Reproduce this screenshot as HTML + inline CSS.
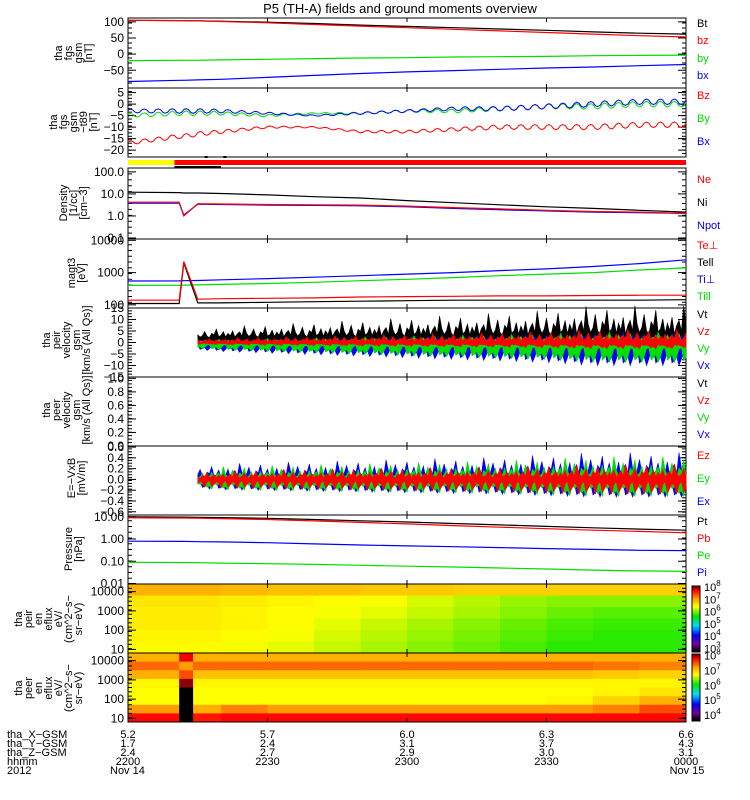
<!DOCTYPE html>
<html><head><meta charset="utf-8"><style>
body{margin:0;background:#fff;}
svg{display:block;font-family:"Liberation Sans",sans-serif;}
</style></head><body>
<svg id="c" width="750" height="800" viewBox="0 0 750 800"></svg>
<script>
// ---- data (time in minutes since 22:00) ----
const tKnots=[0,11,12,15,20,30,40,50,60,70,80,90,100,110,120];
const Bt=[105,104,104,103,102,99,95,90,86,82,78,74,69,65,62];
const Bz=[105,104,104,103,101,97,92,87,82,77,72,67,62,57,53];
const By=[-20,-19,-19,-19,-18,-16,-14,-12,-11,-9,-8,-7,-5,-4,-3];
const Bx=[-85,-81,-81,-80,-78,-72,-66,-60,-55,-51,-47,-43,-40,-36,-32];
const dBz=[-17,-14,-14,-13,-12,-10,-10,-12,-12,-11,-10,-10,-10,-9,-9];
const dBy=[-5,-4,-4,-4,-4,-5,-4,-4,-3,-3,-2,-1,-1,0,0];
const dBx=[-3,-3,-3,-3,-3,-4,-5,-4,-3,-2,-2,-1,0,1,1];
const dOsc=[0.8,1,1,1,0.8,0.5,0.3,0.5,0.6,0.8,1,1.1,1.2,1.2,1.2];
const Ne=[4.2,4.2,1.0,3.6,3.5,3.3,3.2,3.1,2.8,2.4,2.1,1.8,1.6,1.5,1.3];
const Ni=[12,11.5,11,11,10.5,9,7.5,6.5,5,4,3.2,2.6,2.2,1.8,1.5];
const Npot=[3.8,3.8,1.1,3.4,3.3,3.1,3.0,2.9,2.6,2.2,1.9,1.7,1.5,1.4,1.3];
const TePerp=[140,140,2200,150,155,160,165,175,180,185,190,190,195,200,200];
const TePar=[110,110,2000,115,115,120,125,130,135,140,140,140,140,140,145];
const TiPerp=[550,555,560,570,600,650,720,800,900,1000,1150,1300,1550,1900,2500];
const TiPar=[400,405,410,415,430,460,500,560,620,700,800,900,1000,1200,1400];
const vBand=[0,0,0,2,2.5,3,3.5,4,4.5,5,5.5,6,7,7,7];
const eBand=[0,0,0,0.12,0.14,0.15,0.16,0.17,0.18,0.19,0.2,0.22,0.24,0.24,0.24];
const Pt=[10,9.7,9.7,9.5,9.2,8.5,7.5,6.6,5.8,5,4.3,3.7,3.2,2.8,2.5];
const Pb=[9,8.8,8.8,8.6,8.3,7.5,6.5,5.6,4.8,4,3.4,2.9,2.5,2.2,1.9];
const Pe=[0.8,0.78,0.78,0.76,0.74,0.68,0.6,0.54,0.49,0.45,0.41,0.37,0.34,0.31,0.3];
const Pi=[0.09,0.088,0.088,0.086,0.083,0.078,0.072,0.066,0.06,0.055,0.05,0.045,0.04,0.037,0.035];
// spectrogram time-bin edges and log10 flux (rows: energy high->low)
const specEdges=[0,11,14,20,30,40,50,60,70,80,90,100,110,120];
const ionSpec=[
[7.0,7.0,7.0,6.95,6.9,6.9,6.85,6.85,6.8,6.8,6.8,6.8,6.8],
[6.65,6.65,6.65,6.6,6.55,6.5,6.45,6.35,6.25,6.15,6.1,6.1,6.1],
[6.6,6.6,6.6,6.55,6.5,6.45,6.4,6.3,6.2,6.1,6.0,5.95,5.95],
[6.6,6.6,6.6,6.55,6.5,6.4,6.3,6.2,6.1,6.0,5.9,5.85,5.85],
[6.55,6.55,6.55,6.5,6.45,6.35,6.25,6.15,6.05,5.95,5.85,5.8,5.8],
[6.5,6.5,6.5,6.45,6.4,6.3,6.2,6.1,6.0,5.9,5.8,5.8,5.8]];
const eleSpec=[
[7.2,7.9,7.2,7.2,7.2,7.2,7.2,7.2,7.2,7.2,7.2,7.2,7.2],
[7.5,7.3,7.5,7.5,7.5,7.5,7.5,7.5,7.5,7.5,7.5,7.45,7.4],
[7.2,7.6,7.1,7.1,7.1,7.1,7.1,7.1,7.1,7.1,7.1,7.05,7.0],
[6.8,8.1,6.8,6.8,6.8,6.8,6.8,6.8,6.8,6.8,6.8,6.8,6.8],
[6.75,0,6.75,6.75,6.75,6.75,6.75,6.75,6.75,6.75,6.75,6.8,6.9],
[6.75,0,6.75,6.75,6.75,6.75,6.75,6.75,6.75,6.75,6.8,7.0,7.2],
[7.3,0,7.2,7.4,7.3,7.3,7.3,7.3,7.3,7.3,7.3,7.4,7.6],
[7.85,0,7.8,7.85,7.85,7.85,7.85,7.85,7.85,7.85,7.85,7.85,7.85]];
const xTicks=['2200','2230','2300','2330','0000'];
const posX=['5.2','5.7','6.0','6.3','6.6'];
const posY=['1.7','2.4','3.1','3.7','4.3'];
const posZ=['2.4','2.7','2.9','3.0','3.1'];
// ---- helpers ----
const S=document.getElementById('c'),NS='http://www.w3.org/2000/svg';
const X0=128,X1=686;
const pat=[1.0,0.45,0.8,1.7,0.6,0.3,1.2,0.9,2.0,0.5,0.7,1.4,0.4,1.1,0.6,1.5,0.35,0.95,1.3,0.55,2.3];
function X(t){return X0+t/120*(X1-X0);}
function el(tag,a,p){const e=document.createElementNS(NS,tag);for(const k in a)e.setAttribute(k,a[k]);(p||S).appendChild(e);return e;}
function txt(x,y,s,o){o=o||{};const e=el('text',{x:x,y:y,'font-size':o.fs||11,fill:o.fill||'#000','text-anchor':o.a||'start'});if(o.rot)e.setAttribute('transform','rotate(-90 '+x+' '+y+')');e.textContent=s;return e;}
function lin(v,a,b,y0,y1){return y1-(v-a)/(b-a)*(y1-y0);}
function lg(v,a,b,y0,y1){return lin(Math.log10(v),Math.log10(a),Math.log10(b),y0,y1);}
function interp(arr,t){let i=0;while(i<tKnots.length-2&&t>tKnots[i+1])i++;const u=(t-tKnots[i])/(tKnots[i+1]-tKnots[i]);return arr[i]*(1-u)+arr[i+1]*u;}
function series(arr,f,col,name){let d='';for(let i=0;i<arr.length;i++){d+=(d?'L':'M')+X(tKnots[i]).toFixed(1)+','+f(arr[i]).toFixed(1);}
 const p=el('path',{d:d,fill:'none',stroke:col,'stroke-width':1.2});}
function osc(arr,amp,f,col,name){let d='';for(let k=0;k<=240;k++){const t=k/2;const v=interp(arr,t),a=interp(amp,t);const ph=k%6;const w=(ph<3?1:-1)*a*(ph%3===1?1:0.6);d+=(d?'L':'M')+X(t).toFixed(1)+','+f(v+w).toFixed(1);}
 const p=el('path',{d:d,fill:'none',stroke:col,'stroke-width':1});}
function band(center,w,f,col,name,su,sd,off){let up='',dn=[];for(let k=0;k<=210;k++){const t=15+k*0.5;const a=interp(w,t);const m1=pat[(k+off)%pat.length],m2=pat[(k*3+off+7)%pat.length];up+=(up?'L':'M')+X(t).toFixed(1)+','+f(center+a*su*m1).toFixed(1);dn.unshift(X(t).toFixed(1)+','+f(center-a*sd*m2).toFixed(1));}
 const p=el('path',{d:up+'L'+dn.join('L')+'Z',fill:col,stroke:col,'stroke-width':0.6});}
function frame(y0,y1,name){const r=el('rect',{x:X0,y:y0,width:X1-X0,height:y1-y0,fill:'none',stroke:'#000','stroke-width':1});
 for(let i=1;i<4;i++){el('line',{x1:X(i*30),x2:X(i*30),y1:y0,y2:y0+4,stroke:'#000'});el('line',{x1:X(i*30),x2:X(i*30),y1:y1,y2:y1-4,stroke:'#000'});}}
function yt(y,s){el('line',{x1:X0,x2:X0+8,y1:y,y2:y,stroke:'#000'});el('line',{x1:X1,x2:X1-8,y1:y,y2:y,stroke:'#000'});txt(X0-4,y+4,s,{a:'end',fs:12});}
function minor(y0,y1,n){for(let i=0;i<=n;i++){const y=y0+(y1-y0)*i/n;el('line',{x1:X0,x2:X0+4,y1:y,y2:y,stroke:'#000'});el('line',{x1:X1,x2:X1-4,y1:y,y2:y,stroke:'#000'});}}
function ylab(lines,xc,yc){lines.forEach((s,i)=>{const t=txt(xc+i*10,yc,s,{a:'middle',fs:11,rot:1});});}
function legend(items,ys){items.forEach((it,i)=>{const t=txt(697,ys[i],it[0],{fill:it[1],fs:11});});}
// title
const ti=txt(400,13,'P5 (TH-A) fields and ground moments overview',{a:'middle',fs:13});

// panel 1
{const y0=18,y1=88,f=v=>lin(v,-105,112,y0,y1);frame(y0,y1,'fgm-panel');minor(y0,y1,14);[100,50,0,-50].forEach(v=>yt(f(v),v<0?'\u221250':String(v)));
series(Bt,f,'#000','bt-line');series(Bz,f,'#f00','bz-line');series(By,f,'#0d0','by-line');series(Bx,f,'#00f','bx-line');
ylab(['tha','fgs','gsm','[nT]'],62,53);legend([['Bt','#000'],['bz','#f00'],['by','#0d0'],['bx','#00f']],[27,44,62,79]);}
// panel 2
{const y0=88,y1=157,f=v=>lin(v,-23,7,y0,y1);frame(y0,y1,'fgm-detrended-panel');minor(y0,y1,20);[5,0,-5,-10,-15,-20].forEach(v=>yt(f(v),v<0?'\u2212'+(-v):String(v)));
osc(dBz,dOsc,f,'#f00','dbz-line');osc(dBy,dOsc,f,'#0d0','dby-line');osc(dBx,dOsc,f,'#00f','dbx-line');
ylab(['tha','fgs','gsm','\u2212t89','[nT]'],57,122);legend([['Bz','#f00'],['By','#0d0'],['Bx','#00f']],[99,122,145]);}
// state bar
{const a=el('rect',{x:X0,y:160,width:X(10)-X0,height:5,fill:'#ff0'});
const b=el('rect',{x:X(10),y:160,width:X1-X(10),height:5,fill:'#f00'});
el('rect',{x:X(10),y:166,width:X(20)-X(10),height:2,fill:'#000'});el('rect',{x:X(16.5),y:156,width:3,height:2,fill:'#000'});el('rect',{x:X(20.5),y:156,width:3,height:2,fill:'#000'});}
// panel 3 density
{const y0=168,y1=239,f=v=>lg(v,0.09,150,y0,y1);frame(y0,y1,'density-panel');[[100,'100.0'],[10,'10.0'],[1,'1.0'],[0.1,'0.1']].forEach(a=>yt(f(a[0]),a[1]));minor(y0,y1,12);
series(Ni,f,'#000','ni-line');series(Npot,f,'#00f','npot-line');series(Ne,f,'#f00','ne-line');
ylab(['Density','[1/cc]','[cm\u22123]'],67,203);legend([['Ne','#f00'],['Ni','#000'],['Npot','#00f']],[183,206,229]);}
// panel 4 temps
{const y0=239,y1=308,f=v=>lg(v,80,11000,y0,y1);frame(y0,y1,'temperature-panel');[[10000,'10000'],[1000,'1000'],[100,'100']].forEach(a=>yt(f(a[0]),a[1]));minor(y0,y1,12);
series(TiPerp,f,'#00f','ti-perp-line');series(TiPar,f,'#0d0','ti-par-line');series(TePar,f,'#000','te-par-line');series(TePerp,f,'#f00','te-perp-line');
ylab(['magt3','[eV]'],75,273);legend([['Te\u22a5','#f00'],['Tell','#000'],['Ti\u22a5','#00f'],['Till','#0d0']],[249,266,283,300]);}
// panel 5 ion velocity
{const y0=308,y1=377,f=v=>lin(v,-15,15,y0,y1);frame(y0,y1,'ion-velocity-panel');[15,10,5,0,-5,-10,-15].forEach(v=>yt(f(v),v<0?'\u2212'+(-v):String(v)));minor(y0,y1,24);
band(1.5,vBand,f,'#000','vt-band',0.9,0.4,0);band(-0.5,vBand,f,'#00f','vx-band',0.3,0.8,5);band(-0.3,vBand,f,'#0d0','vy-band',0.3,0.7,11);band(0,vBand,f,'#f00','vz-band',0.35,0.35,3);
ylab(['tha','peir','velocity','gsm','[km/s (All Qs)]'],50,340);legend([['Vt','#000'],['Vz','#f00'],['Vy','#0d0'],['Vx','#00f']],[318,335,352,369]);}
// panel 6 electron velocity
{const y0=377,y1=446,f=v=>lin(v,0,1.02,y0,y1);frame(y0,y1,'electron-velocity-panel');[[1,'1.0'],[0.8,'0.8'],[0.6,'0.6'],[0.4,'0.4'],[0.2,'0.2'],[0,'0.0']].forEach(a=>yt(f(a[0]),a[1]));minor(y0,y1,20);
ylab(['tha','peer','velocity','gsm','[km/s (All Qs)]'],50,410);legend([['Vt','#000'],['Vz','#f00'],['Vy','#0d0'],['Vx','#00f']],[387,404,421,438]);}
// panel 7 E field
{const y0=446,y1=515,f=v=>lin(v,-0.66,0.62,y0,y1);frame(y0,y1,'efield-panel');[0.6,0.4,0.2,0,-0.2,-0.4,-0.6].forEach(v=>yt(f(v),(v<0?'\u2212':'')+Math.abs(v).toFixed(1)));minor(y0,y1,24);
band(0,eBand,f,'#00f','ex-band',0.9,0.8,2);band(-0.02,eBand,f,'#0d0','ey-band',0.8,1.1,9);band(0,eBand,f,'#f00','ez-band',0.5,0.5,4);
ylab(['E=\u2212VxB','[mV/m]'],75,478);legend([['Ez','#f00'],['Ey','#0d0'],['Ex','#00f']],[459,482,505]);}
// panel 8 pressure
{const y0=515,y1=584,f=v=>lg(v,0.0095,12,y0,y1);frame(y0,y1,'pressure-panel');[[10,'10.00'],[1,'1.00'],[0.1,'0.10'],[0.01,'0.01']].forEach(a=>yt(f(a[0]),a[1]));minor(y0,y1,12);
series(Pt,f,'#000','pt-line');series(Pb,f,'#f00','pb-line');series(Pe,f,'#00f','pe-line');series(Pi,f,'#0d0','pi-line');
ylab(['Pressure','[nPa]'],72,549);legend([['Pt','#000'],['Pb','#f00'],['Pe','#0d0'],['Pi','#00f']],[525,542,559,576]);}
// colormap
function cmap(v){const st=[[0,[0,0,0]],[.12,[120,0,160]],[.25,[0,0,255]],[.4,[0,220,255]],[.55,[0,230,0]],[.7,[255,255,0]],[.82,[255,160,0]],[.95,[255,0,0]],[1,[140,0,0]]];v=Math.max(0,Math.min(1,v));for(let i=1;i<st.length;i++){if(v<=st[i][0]){const a=st[i-1],b=st[i],u=(v-a[0])/(b[0]-a[0]);return 'rgb('+a[1].map((c,j)=>Math.round(c+(b[1][j]-c)*u)).join(',')+')';}}return 'rgb(140,0,0)';}
function spec(data,y0,y1,lo,hi,name){const g=el('g',{});
 const nr=data.length,nc=data[0].length;
 for(let r=0;r<nr;r++)for(let c=0;c<nc;c++){const v=data[r][c];const col=v===0?'#000':cmap((v-lo)/(hi-lo));
  const xa=X(specEdges[c]),xb=X(specEdges[c+1]);const ya=y0+(y1-y0)*r/nr,yb=y0+(y1-y0)*(r+1)/nr;
  el('rect',{x:xa,y:ya,width:xb-xa+0.5,height:yb-ya+0.5,fill:col},g);}
}
function cbar(y0,y1,lo,hi,labs,name){const g=el('g',{});const n=40;for(let i=0;i<n;i++){el('rect',{x:692,y:y1-(i+1)*(y1-y0)/n,width:8,height:(y1-y0)/n+0.5,fill:cmap(i/(n-1))},g);}
 el('rect',{x:692,y:y0,width:8,height:y1-y0,fill:'none',stroke:'#000'},g);
 labs.forEach(p=>{const y=y1-(p-lo)/(hi-lo)*(y1-y0);const t=el('text',{x:704,y:y+4,'font-size':11},g);t.textContent='10';const s=el('tspan',{dy:-5,'font-size':8},t);s.textContent=p;});}
{const y0=584,y1=653;spec(ionSpec,y0,y1,2.7,8.1,'ion-spectrogram');frame(y0,y1,'ion-spectrogram-panel');const f=v=>lg(v,6.5,25000,y0,y1);[[10000,'10000'],[1000,'1000'],[100,'100'],[10,'10']].forEach(a=>yt(f(a[0]),a[1]));minor(y0,y1,16);
cbar(586,652,2.7,8.1,[8,7,6,5,4,3],'ion-colorbar');ylab(['tha','peir','en','eflux','eV/','(cm^2\u2212s\u2212','sr\u2212eV)'],22,619);}
{const y0=653,y1=722;spec(eleSpec,y0,y1,3.6,8.1,'electron-spectrogram');frame(y0,y1,'electron-spectrogram-panel');const f=v=>lg(v,6.5,25000,y0,y1);[[10000,'10000'],[1000,'1000'],[100,'100'],[10,'10']].forEach(a=>yt(f(a[0]),a[1]));minor(y0,y1,16);
cbar(654,721,3.6,8.1,[8,7,6,5,4],'electron-colorbar');ylab(['tha','peer','en','eflux','eV/','(cm^2\u2212s\u2212','sr\u2212eV)'],22,688);}
// bottom labels
[['tha_X\u2212GSM',posX],['tha_Y\u2212GSM',posY],['tha_Z\u2212GSM',posZ],['hhmm',xTicks]].forEach((r,i)=>{const y=738+i*9;txt(7,y,r[0],{fs:11});r[1].forEach((s,j)=>{const t=txt(X(j*30),y,s,{a:'middle',fs:11});});});
txt(7,774,'2012',{fs:11});txt(110,774,'Nov 14',{fs:11});txt(X1+1,774,'Nov 15',{a:'middle',fs:11});
</script>
</body></html>
